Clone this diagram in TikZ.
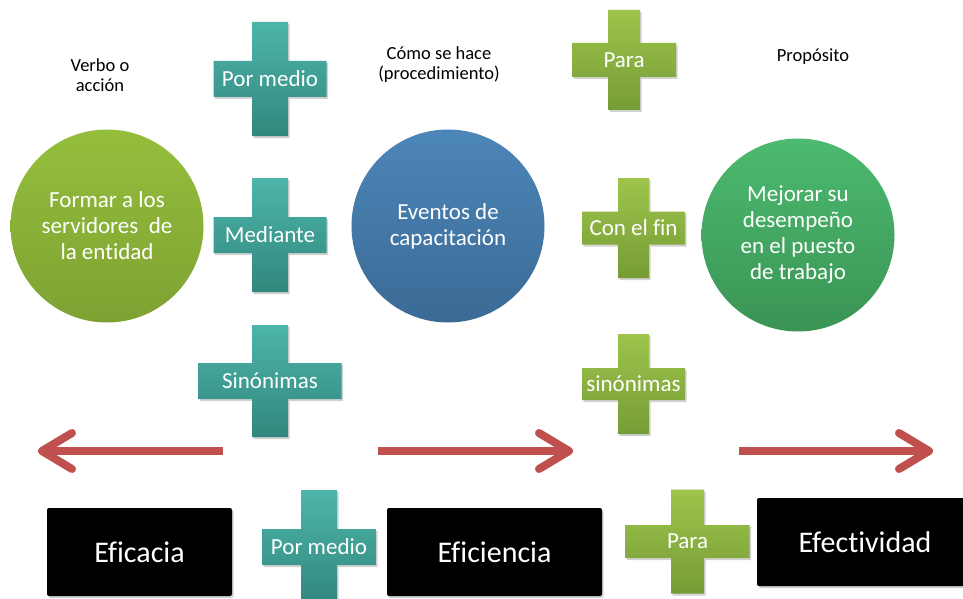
\documentclass[tikz,border=0pt]{standalone}
\usepackage{fontspec}
\setmainfont{Carlito}[Ligatures={NoCommon}]
\usetikzlibrary{shadows}
\definecolor{tealtop}{HTML}{4DB5AA}
\definecolor{tealbot}{HTML}{31877E}
\definecolor{limetop}{HTML}{9EC44C}
\definecolor{limebot}{HTML}{769C35}
\definecolor{circAtop}{HTML}{95BE3C}
\definecolor{circAbot}{HTML}{7EA232}
\definecolor{circBtop}{HTML}{4C86B8}
\definecolor{circBbot}{HTML}{3B6A95}
\definecolor{circCtop}{HTML}{4CBA6F}
\definecolor{circCbot}{HTML}{3A9455}
\definecolor{arrowred}{HTML}{C0504D}
\newcommand{\pluscross}[9]{%
  \path[#1] (#3-#5,#4-#6) -- (#3+#5,#4-#6) -- (#3+#5,#4-#8) -- (#3+#7,#4-#8) -- (#3+#7,#4+#8) -- (#3+#5,#4+#8) -- (#3+#5,#4+#6) -- (#3-#5,#4+#6) -- (#3-#5,#4+#8) -- (#3-#7,#4+#8) -- (#3-#7,#4-#8) -- (#3-#5,#4-#8) -- cycle;
  \node[crosslabel] (#2) at (#3,#4) {#9};}
\begin{document}
\begin{tikzpicture}[x=1pt,y=-1pt,
  softshadow/.style={general shadow={fill=black,opacity=0.18,shadow xshift=1.5pt,shadow yshift=-2pt}},
  tealcross/.style={softshadow,top color=tealtop,bottom color=tealbot},
  limecross/.style={softshadow,top color=limetop,bottom color=limebot},
  crosslabel/.style={text=white,font=\fontsize{23}{26}\selectfont,inner sep=0pt},
  smalllabel/.style={text=black,font=\fontsize{18.5}{20}\selectfont,align=center,inner sep=0pt},
  bigcircle/.style={circle,minimum size=193pt,inner sep=0pt,align=center,text=white,font=\fontsize{23}{26}\selectfont},
  blackbox/.style={fill=black,rounded corners=2pt,softshadow,minimum height=88pt,text=white,font=\fontsize{30}{32}\selectfont},
  redline/.style={draw=arrowred,line width=8pt},
  redhead/.style={draw=arrowred,line width=8pt,line cap=round,line join=round}]
\useasboundingbox[fill=white] (0,0) rectangle (963,599);

% top labels
\node[smalllabel] (verbo) at (100,75) {Verbo o\\acción};
\node[smalllabel] (como) at (439,65) {Cómo se hace\\(procedimiento)};
\node[smalllabel] (proposito) at (813,57) {Propósito};

% circles
\node[bigcircle,top color=circAtop,bottom color=circAbot] (formar) at (107,226) {Formar a los\\servidores\ \ de\\la entidad};
\node[bigcircle,top color=circBtop,bottom color=circBbot] (eventos) at (448,226) {Eventos de\\capacitación};
\node[bigcircle,top color=circCtop,bottom color=circCbot] (mejorar) at (798,235) {Mejorar su\\desempeño\\en el puesto\\de trabajo};

% crosses
\pluscross{tealcross}{pormedio}{270}{79}{18}{57}{56.5}{18}{Por medio}
\pluscross{tealcross}{mediante}{270}{235}{18}{57}{56.5}{18}{Mediante}
\pluscross{tealcross}{sinonimasA}{270}{381}{18}{56}{71.5}{18}{Sinónimas}
\pluscross{limecross}{para}{624}{60}{16}{50}{52}{17}{Para}
\pluscross{limecross}{confin}{633.5}{228}{15.5}{50}{51.5}{16.5}{Con el fin}
\pluscross{limecross}{sinonimasB}{633.5}{384}{15.5}{50}{51.5}{16}{sinónimas}
\pluscross{tealcross}{pormedioB}{319}{547}{18}{57}{57}{18}{Por medio}
\pluscross{limecross}{paraB}{687.5}{541.5}{16.5}{52}{62}{16.5}{Para}

% arrows
\coordinate (a1s) at (223,451); \coordinate (a1t) at (42,451);
\coordinate (a1u) at (72,433); \coordinate (a1d) at (72,469);
\draw[redline] (a1s) -- (a1t);
\draw[redhead] (a1u) -- (a1t) -- (a1d);
\coordinate (a2s) at (378,451); \coordinate (a2t) at (569,451);
\coordinate (a2u) at (539,433); \coordinate (a2d) at (539,469);
\draw[redline] (a2s) -- (a2t);
\draw[redhead] (a2u) -- (a2t) -- (a2d);
\coordinate (a3s) at (739,451); \coordinate (a3t) at (929,451);
\coordinate (a3u) at (899,433); \coordinate (a3d) at (899,469);
\draw[redline] (a3s) -- (a3t);
\draw[redhead] (a3u) -- (a3t) -- (a3d);

% black boxes
\node[blackbox,minimum width=185pt] (eficacia) at (139.5,552) {Eficacia};
\node[blackbox,minimum width=215pt] (eficiencia) at (494.5,552) {Eficiencia};
\node[blackbox,minimum width=216pt] (efectividad) at (865,542) {Efectividad};
\end{tikzpicture}
\end{document}
